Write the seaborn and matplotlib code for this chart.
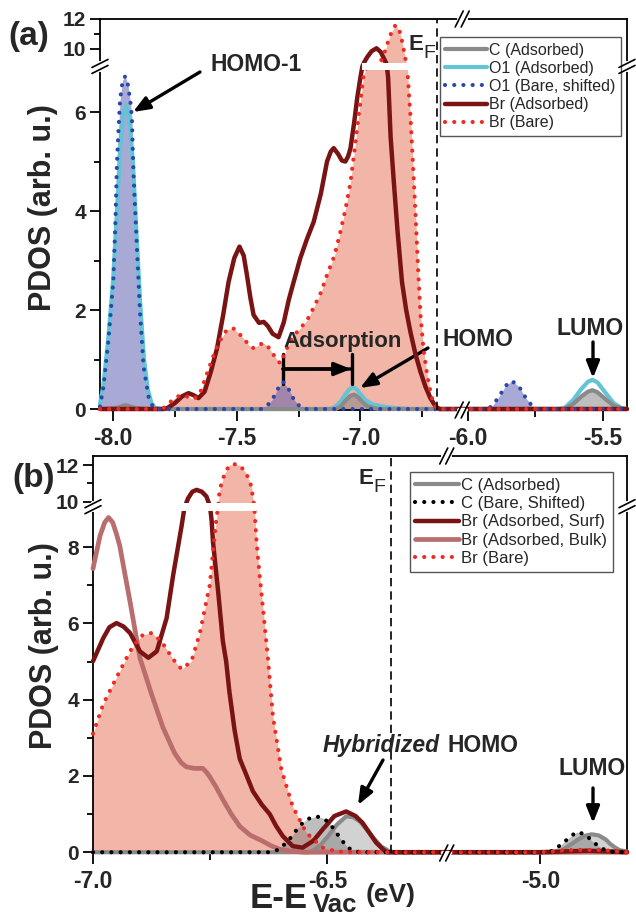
import numpy as np
import matplotlib
matplotlib.use("Agg")
import matplotlib.pyplot as plt
from matplotlib.lines import Line2D
import seaborn as sns

# ---- panel (a): (energy eV, PDOS) ----
a_c_ads = [(-8.053, 0), (-7.99, 0.02), (-7.95, 0.08), (-7.91, 0.02), (-7.87, 0), (-7.10, 0), (-7.08, 0.05),
           (-7.06, 0.17), (-7.04, 0.27), (-7.025, 0.29), (-7.01, 0.24), (-6.99, 0.13), (-6.97, 0.05), (-6.94, 0.01),
           (-6.92, 0), (-5.64, 0), (-5.61, 0.10), (-5.58, 0.25), (-5.555, 0.35), (-5.538, 0.38), (-5.52, 0.34),
           (-5.49, 0.20), (-5.46, 0.07), (-5.43, 0.01), (-5.41, 0)]
a_o1_ads = [(-8.053, 0.10), (-8.04, 0.45), (-8.02, 1.4), (-8.0, 2.6), (-7.985, 3.95), (-7.972, 5.2), (-7.96, 5.9),
            (-7.947, 6.14), (-7.935, 5.9), (-7.92, 5.0), (-7.905, 3.5), (-7.89, 2.1), (-7.875, 1.0), (-7.86, 0.4),
            (-7.845, 0.12), (-7.83, 0.02), (-7.80, 0), (-7.12, 0), (-7.10, 0.05), (-7.08, 0.15), (-7.06, 0.3),
            (-7.045, 0.4), (-7.03, 0.44), (-7.015, 0.4), (-7.0, 0.3), (-6.98, 0.18), (-6.95, 0.09), (-6.91, 0.05),
            (-6.86, 0.02), (-6.80, 0), (-5.66, 0), (-5.64, 0.03), (-5.61, 0.18), (-5.58, 0.40), (-5.555, 0.55),
            (-5.538, 0.59), (-5.52, 0.54), (-5.49, 0.33), (-5.46, 0.12), (-5.43, 0.02), (-5.41, 0)]
a_o1_bare = [(-8.053, 0.05), (-8.039, 0.45), (-8.019, 1.39), (-7.999, 2.6), (-7.99, 3.9), (-7.985, 4.9),
             (-7.979, 5.57), (-7.972, 6.24), (-7.961, 6.65), (-7.951, 6.72), (-7.94, 6.55), (-7.93, 6.2),
             (-7.924, 5.9), (-7.918, 4.8), (-7.904, 3.28), (-7.891, 1.93), (-7.877, 0.86), (-7.857, 0.25),
             (-7.838, 0.03), (-7.82, 0), (-7.40, 0), (-7.38, 0.05), (-7.355, 0.2), (-7.335, 0.4), (-7.313, 0.55),
             (-7.29, 0.4), (-7.27, 0.2), (-7.245, 0.05), (-7.23, 0), (-5.93, 0), (-5.91, 0.06), (-5.885, 0.25),
             (-5.86, 0.47), (-5.837, 0.57), (-5.81, 0.45), (-5.785, 0.22), (-5.76, 0.05), (-5.74, 0), (-5.41, 0)]
a_br_ads = [(-8.053, 0), (-7.80, 0), (-7.78, 0.02), (-7.75, 0.12), (-7.72, 0.26), (-7.695, 0.32), (-7.675, 0.28),
            (-7.655, 0.22), (-7.63, 0.35), (-7.605, 0.75), (-7.58, 1.22), (-7.555, 1.9), (-7.533, 2.57),
            (-7.51, 3.05), (-7.489, 3.28), (-7.472, 3.1), (-7.459, 2.71), (-7.445, 2.25), (-7.432, 1.9),
            (-7.41, 1.74), (-7.391, 1.76), (-7.375, 1.68), (-7.355, 1.52), (-7.331, 1.45), (-7.31, 1.75),
            (-7.29, 2.2), (-7.277, 2.44), (-7.243, 3.05), (-7.215, 3.45), (-7.189, 3.78), (-7.16, 4.35),
            (-7.135, 5.0), (-7.12, 5.2), (-7.108, 5.27), (-7.09, 5.15), (-7.075, 5.02), (-7.061, 5.0),
            (-7.05, 5.1), (-7.04, 5.27), (-7.025, 5.8), (-7.013, 6.28), (-7.0, 6.7), (-6.992, 8.0),
            (-6.985, 9.1), (-6.973, 9.45), (-6.955, 9.85), (-6.935, 10.05), (-6.918, 9.8), (-6.906, 9.4),
            (-6.897, 9.1), (-6.893, 8.0), (-6.888, 6.7), (-6.878, 5.5), (-6.865, 4.59), (-6.85, 3.6),
            (-6.832, 2.57), (-6.815, 2.0), (-6.798, 1.56), (-6.777, 1.1), (-6.757, 0.75), (-6.737, 0.45),
            (-6.717, 0.22), (-6.696, 0.05), (-6.68, 0), (-5.41, 0)]
a_br_bare = [(-8.053, 0), (-7.80, 0), (-7.783, 0.08), (-7.755, 0.2), (-7.729, 0.28), (-7.70, 0.25), (-7.675, 0.2),
             (-7.65, 0.3), (-7.62, 0.72), (-7.60, 1.0), (-7.58, 1.26), (-7.56, 1.45), (-7.54, 1.6), (-7.514, 1.63),
             (-7.49, 1.52), (-7.466, 1.39), (-7.45, 1.28), (-7.432, 1.23), (-7.41, 1.3), (-7.391, 1.33),
             (-7.375, 1.27), (-7.364, 1.19), (-7.345, 1.05), (-7.324, 0.92), (-7.30, 1.2), (-7.275, 1.45),
             (-7.243, 1.63), (-7.215, 1.8), (-7.19, 2.04), (-7.16, 2.35), (-7.135, 2.71), (-7.105, 3.1),
             (-7.081, 3.58), (-7.06, 4.05), (-7.04, 4.59), (-7.022, 5.3), (-7.007, 5.94), (-6.987, 6.75),
             (-6.975, 7.6), (-6.95, 8.3), (-6.93, 8.8), (-6.92, 9.1), (-6.906, 9.6), (-6.89, 10.4), (-6.875, 11.1),
             (-6.858, 11.6), (-6.842, 11.2), (-6.83, 10.4), (-6.82, 9.5), (-6.815, 9.1), (-6.811, 8.0),
             (-6.808, 6.7), (-6.798, 5.94), (-6.787, 4.9), (-6.777, 3.92), (-6.767, 2.85), (-6.757, 1.9),
             (-6.745, 1.2), (-6.73, 0.69), (-6.715, 0.3), (-6.703, 0.08), (-6.69, 0), (-5.41, 0)]

# ---- panel (b) ----
b_c_ads = [(-7.0, 0), (-6.54, 0), (-6.53, 0.05), (-6.517, 0.16), (-6.5, 0.4), (-6.48, 0.72), (-6.46, 0.94),
           (-6.445, 0.92), (-6.43, 0.8), (-6.415, 0.58), (-6.40, 0.35), (-6.385, 0.15), (-6.37, 0.04), (-6.36, 0),
           (-4.96, 0), (-4.95, 0.08), (-4.935, 0.2), (-4.92, 0.33), (-4.905, 0.43), (-4.89, 0.47), (-4.875, 0.44),
           (-4.86, 0.33), (-4.851, 0.22), (-4.84, 0.12), (-4.83, 0.05), (-4.815, 0.02)]
b_c_bare = [(-7.0, 0), (-6.62, 0), (-6.602, 0.08), (-6.581, 0.34), (-6.56, 0.68), (-6.545, 0.86), (-6.524, 0.94),
            (-6.51, 0.9), (-6.496, 0.77), (-6.483, 0.55), (-6.471, 0.34), (-6.458, 0.14), (-6.446, 0.04),
            (-6.43, 0), (-5.0, 0), (-4.985, 0.01), (-4.975, 0.03), (-4.954, 0.21), (-4.936, 0.41), (-4.922, 0.53),
            (-4.904, 0.47), (-4.886, 0.25), (-4.865, 0.08), (-4.845, 0.01), (-4.815, 0)]
b_br_surf = [(-7.0, 5.01), (-6.978, 5.62), (-6.965, 5.9), (-6.95, 6.01), (-6.935, 5.92), (-6.921, 5.75),
             (-6.9, 5.27), (-6.882, 5.1), (-6.864, 5.27), (-6.843, 6.14), (-6.829, 7.27), (-6.811, 8.56),
             (-6.805, 9.3), (-6.797, 10.2), (-6.788, 10.55), (-6.779, 10.65), (-6.768, 10.55), (-6.758, 10.29),
             (-6.753, 9.9), (-6.750, 9.3), (-6.747, 8.7), (-6.744, 8.13), (-6.733, 6.83), (-6.723, 5.53),
             (-6.716, 5.01), (-6.709, 4.2), (-6.698, 3.2), (-6.687, 2.45), (-6.672, 2.0), (-6.659, 1.6),
             (-6.64, 1.25), (-6.623, 1.0), (-6.61, 0.7), (-6.595, 0.42), (-6.574, 0.16), (-6.553, 0.12),
             (-6.53, 0.3), (-6.51, 0.6), (-6.485, 0.95), (-6.46, 1.07), (-6.44, 0.95), (-6.425, 0.77),
             (-6.41, 0.5), (-6.396, 0.25), (-6.38, 0.06), (-6.372, 0), (-5.0, 0), (-4.95, 0.02), (-4.9, 0.04),
             (-4.85, 0.02), (-4.815, 0)]
b_br_bulk = [(-7.0, 7.44), (-6.985, 8.3), (-6.975, 8.65), (-6.967, 8.78), (-6.958, 8.65), (-6.95, 8.35),
             (-6.943, 8.04), (-6.932, 7.3), (-6.921, 6.57), (-6.91, 5.8), (-6.9, 5.1), (-6.875, 4.14),
             (-6.851, 3.28), (-6.826, 2.6), (-6.812, 2.35), (-6.801, 2.24), (-6.785, 2.2), (-6.766, 2.2),
             (-6.758, 2.1), (-6.751, 1.98), (-6.737, 1.7), (-6.723, 1.38), (-6.705, 1.0), (-6.687, 0.68),
             (-6.665, 0.45), (-6.638, 0.29), (-6.62, 0.17), (-6.602, 0.08), (-6.58, 0.03), (-6.55, 0), (-4.815, 0)]
b_br_bare = [(-7.0, 3.11), (-6.978, 3.89), (-6.95, 4.58), (-6.921, 5.27), (-6.905, 5.55), (-6.893, 5.71),
             (-6.875, 5.75), (-6.854, 5.53), (-6.829, 5.06), (-6.811, 4.80), (-6.79, 5.01), (-6.772, 5.75),
             (-6.758, 6.6), (-6.751, 7.0), (-6.744, 7.87), (-6.737, 8.74), (-6.733, 9.5), (-6.730, 10.65),
             (-6.719, 11.55), (-6.709, 12.0), (-6.698, 12.05), (-6.687, 12.0), (-6.673, 11.55), (-6.662, 10.83),
             (-6.659, 10.2), (-6.656, 9.5), (-6.652, 8.3), (-6.648, 7.7), (-6.641, 6.83), (-6.634, 5.97),
             (-6.627, 5.1), (-6.616, 3.54), (-6.598, 2.16), (-6.574, 1.2), (-6.545, 0.51), (-6.51, 0.12),
             (-6.48, 0.02), (-6.45, 0), (-5.0, 0), (-4.97, 0.02), (-4.95, 0.05), (-4.93, 0.06), (-4.87, 0.06),
             (-4.85, 0.04), (-4.83, 0.01), (-4.815, 0)]

a_xticks = [-8.0, -7.5, -7.0, -6.0, -5.5]
b_xticks = [-7.0, -6.5, -5.0]
a_yticks = [0, 2, 4, 6, 10, 12]
b_yticks = [0, 2, 4, 6, 8, 10, 12]
ef_a, ef_b = -6.69, -6.364

GRAY, CYAN, BLUE = "#8a8a8a", "#62c4d4", "#2a48a8"
DKRED, RED, BULK = "#7a1414", "#ee2a22", "#b96d6d"

sns.set_style("ticks")
plt.rcParams["font.family"] = ["Liberation Sans", "DejaVu Sans"]
plt.rcParams["axes.linewidth"] = 1.3

W, H = 636, 918
fig = plt.figure(figsize=(W / 100, H / 100), dpi=100)


def box(l, t, r, b):
    return [l / W, 1 - b / H, (r - l) / W, (b - t) / H]


ax_a = fig.add_axes(box(100, 19, 627, 410))
ax_b = fig.add_axes(box(93, 456, 627, 853))


def piecewise(xp, fp):
    xp, fp = np.asarray(xp, float), np.asarray(fp, float)
    s0 = (fp[1] - fp[0]) / (xp[1] - xp[0])
    s1 = (fp[-1] - fp[-2]) / (xp[-1] - xp[-2])

    def f(v):
        v = np.asarray(v, float)
        out = np.interp(v, xp, fp)
        out = np.where(v < xp[0], fp[0] + (v - xp[0]) * s0, out)
        return np.where(v > xp[-1], fp[-1] + (v - xp[-1]) * s1, out)
    return f


def broken(ax, axis, xp, fp):
    fns = (piecewise(xp, fp), piecewise(fp, xp))
    if axis == "x":
        ax.set_xscale("function", functions=fns)
    else:
        ax.set_yscale("function", functions=fns)


broken(ax_a, "x", [-8.053, -6.59, -6.02, -5.41], [-8.053, -6.59, -6.587, -6.587 + 0.61 * 1.09])
broken(ax_a, "y", [0, 6.85, 9.07, 12.5], [0, 6.85, 6.991, 6.991 + 3.43 * 0.303])
broken(ax_b, "x", [-7.0, -6.247, -5.198, -4.815], [-7.0, -6.247, -6.244, -6.244 + 0.383])
broken(ax_b, "y", [0, 8.96, 9.95, 12.5], [0, 8.96, 9.168, 9.168 + 2.55 * 0.48])

DOT = dict(linestyle=(0, (0.01, 2.2)), dash_capstyle="round")


def line(ax, pts, color, lw, label, dotted=False, z=3):
    x, y = np.array(pts).T
    kw = DOT if dotted else dict(solid_capstyle="round", solid_joinstyle="round")
    sns.lineplot(x=x, y=y, ax=ax, color=color, lw=lw, zorder=z, clip_on=False,
                 sort=False, estimator=None, legend=False, **kw)
    ln = ax.lines[-1]
    ln.set_label(label)
    return ln


def fill(ax, pts, color, alpha, z):
    x, y = np.array(pts).T
    ax.fill_between(x, y, 0, color=color, alpha=alpha, lw=0, zorder=z)


# panel (a)
fill(ax_a, a_br_bare, "#e77a61", 0.55, 1)
fill(ax_a, a_o1_bare, "#5555af", 0.5, 1.5)
fill(ax_a, a_c_ads, "#7f7f7f", 0.5, 1.6)
h_a = [line(ax_a, a_c_ads, GRAY, 3.0, "C (Adsorbed)", z=3.1),
       line(ax_a, a_o1_ads, CYAN, 3.0, "O1 (Adsorbed)", z=3.0),
       line(ax_a, a_o1_bare, BLUE, 3.0, "O1 (Bare, shifted)", dotted=True, z=3.3),
       line(ax_a, a_br_ads, DKRED, 3.2, "Br (Adsorbed)", z=3.2),
       line(ax_a, a_br_bare, RED, 3.0, "Br (Bare)", dotted=True, z=3.4)]
ax_a.fill_between([-6.995, -6.79], 6.85, 9.07, color="white", lw=0, zorder=4)
ax_a.axvline(ef_a, color="k", lw=1.2, ls=(0, (5, 3)), zorder=5)

# panel (b)
fill(ax_b, b_br_bare, "#e77a61", 0.55, 1)
fill(ax_b, b_c_bare, "#7f7f7f", 0.5, 1.5)
fill(ax_b, b_c_ads, "#7f7f7f", 0.35, 1.6)
h_b = [line(ax_b, b_c_ads, GRAY, 3.0, "C (Adsorbed)", z=3.0),
       line(ax_b, b_c_bare, "black", 3.0, "C (Bare, Shifted)", dotted=True, z=3.3),
       line(ax_b, b_br_surf, DKRED, 3.2, "Br (Adsorbed, Surf)", z=3.2),
       line(ax_b, b_br_bulk, BULK, 3.4, "Br (Adsorbed, Bulk)", z=3.1),
       line(ax_b, b_br_bare, RED, 3.0, "Br (Bare)", dotted=True, z=3.4)]
ax_b.fill_between([-6.815, -6.652], 8.96, 9.95, color="white", lw=0, zorder=4)
ax_b.axvline(ef_b, color="k", lw=1.2, ls=(0, (5, 3)), zorder=5)

ax_a.set_xlim(-8.053, -5.41)
ax_a.set_ylim(-0.02, 12.0)
ax_b.set_xlim(-7.0, -4.815)
ax_b.set_ylim(-0.02, 12.5)

for ax, xt, yt, xmin, ymin in [(ax_a, a_xticks, a_yticks, [-7.75, -7.25, -6.75, -5.75], [1, 3, 5, 11]),
                               (ax_b, b_xticks, b_yticks, [-6.75], [1, 3, 5, 7, 11])]:
    ax.set_xticks(xt, [f"{v:.1f}" for v in xt], fontsize=16.5, fontweight="bold")
    ax.set_xticks(xmin, minor=True)
    ax.set_yticks(yt, [str(v) for v in yt], fontsize=15, fontweight="bold")
    ax.set_yticks(ymin, minor=True)
    ax.tick_params(which="both", direction="out", width=1.3, top=False, right=False, color="k")
    ax.tick_params(axis="x", which="major", length=8, pad=4)
    ax.tick_params(axis="x", which="minor", length=5)
    ax.tick_params(axis="y", which="major", length=7, pad=3)
    ax.tick_params(axis="y", which="minor", length=4)
    ax.set_xlabel("")
    ax.set_ylabel("")
    for s in ax.spines.values():
        s.set_color("k")

leg_kw = dict(loc="upper right", borderaxespad=0, frameon=True, fancybox=False, edgecolor="#555555",
              framealpha=1, handlelength=2.6, handletextpad=0.15, labelspacing=0.2, borderpad=0.35)
lg = ax_a.legend(handles=h_a, bbox_to_anchor=(0.9886, 0.954), prop={"size": 11.5}, **leg_kw)
lg.get_frame().set_linewidth(1.0)
lg.set_zorder(6)
lg = ax_b.legend(handles=h_b, bbox_to_anchor=(0.9738, 0.9597), prop={"size": 12}, **leg_kw)
lg.get_frame().set_linewidth(1.0)
lg.set_zorder(6)

# axis break marks
fig.canvas.draw()


def brk(xc, yc, horiz):
    if horiz:
        segs = [([xc - 3.5, xc + 3.5], [yc, yc], "white", 3)]
        segs += [([xc + o - 4, xc + o + 4], [yc - 8, yc + 8], "k", 1.2) for o in (-3, 3)]
    else:
        segs = [([xc, xc], [yc - 3.5, yc + 3.5], "white", 3)]
        segs += [([xc - 8, xc + 8], [yc + o - 4, yc + o + 4], "k", 1.2) for o in (-3, 3)]
    for xs, ys, c, lw in segs:
        fig.add_artist(Line2D(np.array(xs) / W, np.array(ys) / H, color=c, lw=lw,
                              transform=fig.transFigure, zorder=10))


for ax, xg, yg in [(ax_a, -6.3, 7.96), (ax_b, -5.7, 9.45)]:
    x0, y0 = ax.transAxes.transform((0, 0))
    x1, y1 = ax.transAxes.transform((1, 1))
    xb = ax.transData.transform((xg, 1))[0]
    yb = ax.transData.transform((-6.9, yg))[1]
    brk(xb, y0, True)
    brk(xb, y1, True)
    brk(x0, yb, False)
    brk(x1, yb, False)


# text, in reference pixel positions (origin top-left)
def put(x, y, s, size, **kw):
    kw.setdefault("fontweight", "bold")
    fig.text(x / W, 1 - y / H, s, fontsize=size, va="baseline", ha="left", **kw)


def arrow(ax, x0, y0, x1, y1, style="-|>,head_length=0.45,head_width=0.18"):
    ax.annotate("", xy=(x1, H - y1), xytext=(x0, H - y0), xycoords="figure pixels",
                textcoords="figure pixels", annotation_clip=False,
                arrowprops=dict(arrowstyle=style, color="k", lw=2.4, mutation_scale=22,
                                shrinkA=0, shrinkB=0))


put(8, 45, "(a)", 24)
put(12, 487, "(b)", 24)
fig.text(43 / W, 1 - 208 / H, "PDOS (arb. u.)", rotation=90, fontsize=22, fontweight="bold",
         ha="center", va="center")
fig.text(44 / W, 1 - 646 / H, "PDOS (arb. u.)", rotation=90, fontsize=22, fontweight="bold",
         ha="center", va="center")
put(250, 908, "E-E", 25)
put(313, 912, "Vac", 18.5)
put(366, 902, "(eV)", 19)

put(408, 50, "E", 16)
put(423, 58, "F", 14, fontweight="normal")
put(358, 484, "E", 16)
put(373, 492, "F", 14, fontweight="normal")

put(210, 71, "HOMO-1", 16.5)
arrow(ax_a, 200, 72, 133, 112)
put(283, 347, "Adsorption", 16)
arrow(ax_a, 283, 369, 352, 369, style="|-|,widthA=0.5,widthB=0.5")
arrow(ax_a, 283, 369, 351, 369)
put(442, 346, "HOMO", 16.5)
arrow(ax_a, 428, 348, 360, 388)
put(557, 335, "LUMO", 16.5)
arrow(ax_a, 593, 342, 593, 378)

put(323, 752, "Hybridized", 16.5, fontstyle="italic")
put(448, 752, "HOMO", 16.5)
arrow(ax_b, 383, 760, 358, 805)
put(558, 775, "LUMO", 16.5)
arrow(ax_b, 593, 788, 593, 823)

fig.savefig("out.png", dpi=100, facecolor="white")
